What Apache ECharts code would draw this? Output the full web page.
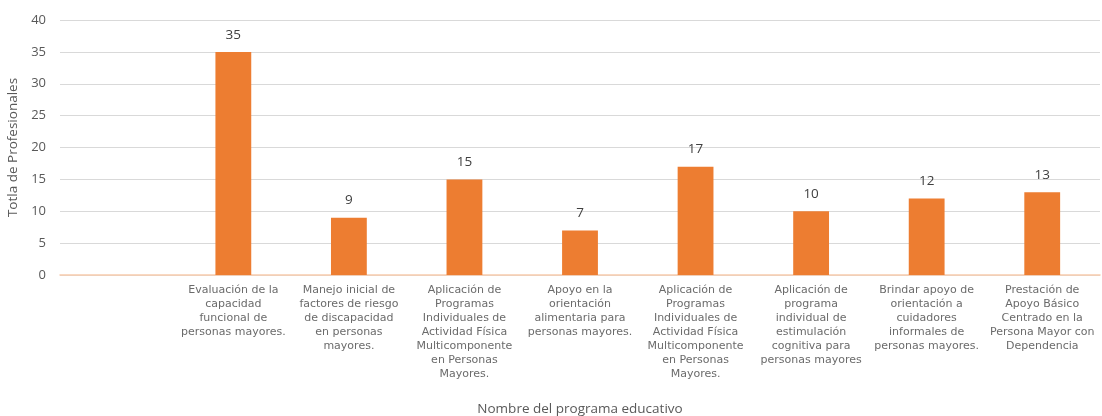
<!DOCTYPE html>
<html>
<head>
<meta charset="utf-8">
<script src="https://cdn.jsdelivr.net/npm/echarts@6/dist/echarts.min.js"></script>
<style>
  html, body { margin: 0; padding: 0; background: #fff; }
  #chart { width: 1102px; height: 416px; }
</style>
</head>
<body>
<div id="chart"></div>
<script>
// categorias (la primera queda vacia, como en el original)
const categories = [
  '',
  'Evaluación de la\ncapacidad\nfuncional de\npersonas mayores.',
  'Manejo inicial de\nfactores de riesgo\nde discapacidad\nen personas\nmayores.',
  'Aplicación de\nProgramas\nIndividuales de\nActividad Física\nMulticomponente\nen Personas\nMayores.',
  'Apoyo en la\norientación\nalimentaria para\npersonas mayores.',
  'Aplicación de\nProgramas\nIndividuales de\nActividad Física\nMulticomponente\nen Personas\nMayores.',
  'Aplicación de\nprograma\nindividual de\nestimulación\ncognitiva para\npersonas mayores',
  'Brindar apoyo de\norientación a\ncuidadores\ninformales de\npersonas mayores.',
  'Prestación de\nApoyo Básico\nCentrado en la\nPersona Mayor con\nDependencia'
]
const profesionales = ['-', 35, 9, 15, 7, 17, 10, 12, 13]
const yTicks = { min: 0, max: 40, interval: 5 }

const chart = echarts.init(document.getElementById('chart'))
chart.setOption({
  animation: false,
  backgroundColor: '#ffffff',
  grid: {
    left: 60,
    right: 2,
    top: 20,
    bottom: 141,
    outerBoundsMode: 'none'
  },
  xAxis: {
    type: 'category',
    data: categories,
    name: 'Nombre del programa educativo',
    nameLocation: 'middle',
    nameGap: 127,
    nameTextStyle: {
      fontFamily: 'Open Sans',
      fontSize: 13.5,
      color: '#595959'
    },
    axisLine: {
      lineStyle: { color: '#f8cbad', width: 1.5 }
    },
    axisTick: { show: false },
    axisLabel: {
      interval: 0,
      margin: 8,
      fontFamily: 'DejaVu Sans',
      fontSize: 11,
      lineHeight: 14,
      color: '#6b6b6b',
      align: 'center',
      verticalAlign: 'top'
    }
  },
  yAxis: {
    type: 'value',
    min: yTicks.min,
    max: yTicks.max,
    interval: yTicks.interval,
    name: 'Totla de Profesionales',
    nameLocation: 'middle',
    nameGap: 30,
    nameTextStyle: {
      fontFamily: 'Open Sans',
      fontSize: 13.5,
      color: '#595959'
    },
    axisLine: { show: false },
    axisTick: { show: false },
    axisLabel: {
      margin: 14,
      fontFamily: 'Open Sans',
      fontSize: 13,
      color: '#595959'
    },
    splitLine: {
      lineStyle: { color: '#d9d9d9', width: 1 }
    }
  },
  series: [{
    type: 'bar',
    data: profesionales,
    barWidth: '31%',
    itemStyle: { color: '#ed7d31' },
    label: {
      show: true,
      position: 'top',
      distance: 10,
      fontFamily: 'Open Sans',
      fontSize: 13.5,
      color: '#404040'
    }
  }]
})
</script>
</body>
</html>
